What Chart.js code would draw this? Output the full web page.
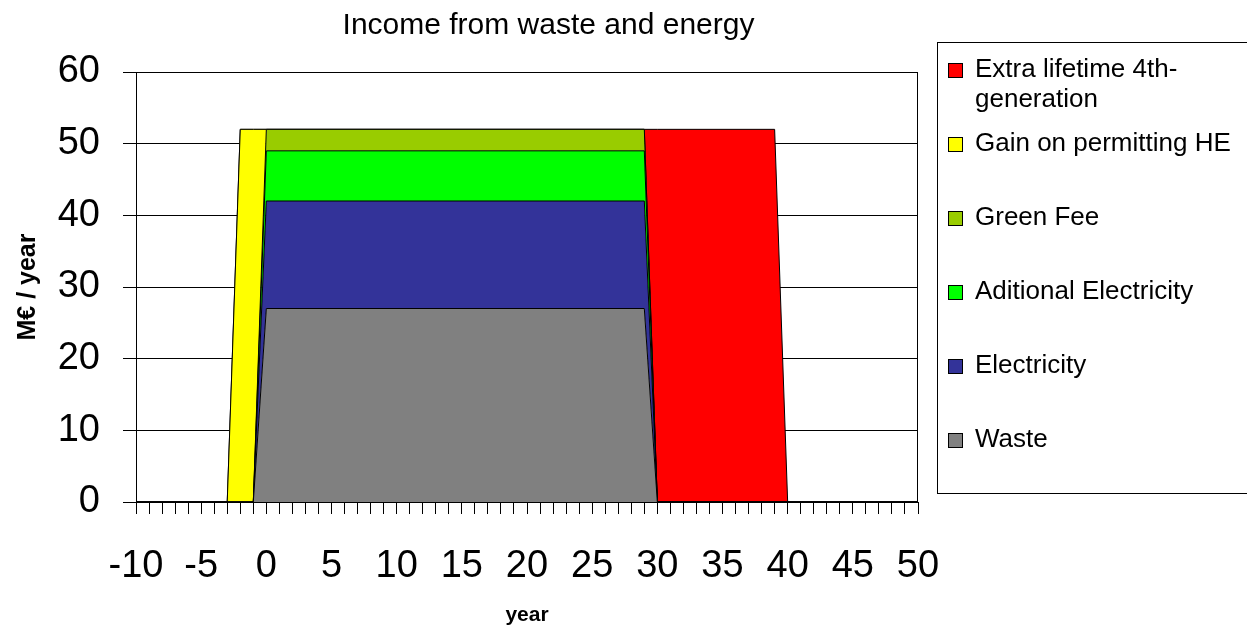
<!DOCTYPE html>
<html>
<head>
<meta charset="utf-8">
<title>Income from waste and energy</title>
<script src="https://cdn.jsdelivr.net/npm/chart.js@4/dist/chart.umd.min.js"></script>
<style>
  html, body { margin: 0; padding: 0; background: #fff; }
  canvas { display: block; }
</style>
</head>
<body>
<canvas id="chart" width="1247" height="628"></canvas>
<script>
// Years at which the income streams change (x positions of the area breakpoints)
const years = [-10, -3, -2, -1, 0, 29, 30, 39, 40, 50];

// Income per stream, M€ / year, stacked bottom to top
const waste            = [0, 0, 0,  0, 27, 27,  0,  0, 0, 0];
const electricity      = [0, 0, 0,  0, 15, 15,  0,  0, 0, 0];
const addElectricity   = [0, 0, 0,  0,  7,  7,  0,  0, 0, 0];
const greenFee         = [0, 0, 0,  0,  3,  3,  0,  0, 0, 0];
const gainPermitting   = [0, 0, 52, 52, 0,  0,  0,  0, 0, 0];
const extraLifetime    = [0, 0, 0,  0,  0,  0, 52, 52, 0, 0];

const seriesNames = [
  'Waste',
  'Electricity',
  'Aditional Electricity',
  'Green Fee',
  'Gain on permitting HE',
  'Extra lifetime 4th-generation'
];
const seriesValues = [waste, electricity, addElectricity, greenFee, gainPermitting, extraLifetime];
const seriesColors = ['#808080', '#333399', '#00FF00', '#99CC00', '#FFFF00', '#FF0000'];

const yTicks = { min: 0, max: 60, step: 10 };
const xTicks = { min: -10, max: 50, step: 1, labelEvery: 5 };

const FONT = "'Liberation Sans', Arial, Helvetica, sans-serif";
Chart.defaults.font.family = FONT;
Chart.defaults.color = '#000';

const datasets = seriesValues.map((vals, i) => ({
  label: seriesNames[i],
  data: years.map((x, j) => ({ x: x, y: vals[j] })),
  backgroundColor: seriesColors[i],
  borderColor: '#000',
  borderWidth: 1,
  pointRadius: 0,
  tension: 0,
  fill: i === 0 ? 'origin' : '-1'
}));

// Split a legend label into lines that fit the given width (breaks after spaces or hyphens)
function wrapText(ctx, text, maxWidth) {
  const tokens = text.match(/[^\s-]+-?\s*|\s+/g) || [text];
  const lines = [];
  let line = '';
  tokens.forEach(tok => {
    const test = line + tok;
    if (line && ctx.measureText(test.trimEnd()).width > maxWidth) {
      lines.push(line.trimEnd());
      line = tok.trimStart();
    } else {
      line = test;
    }
  });
  if (line) lines.push(line.trimEnd());
  return lines;
}

// Plot frame drawn over the areas
const frame = {
  id: 'frame',
  afterDatasetsDraw(chart) {
    const { ctx, chartArea: a } = chart;
    ctx.save();
    ctx.strokeStyle = '#000';
    ctx.lineWidth = 1;
    ctx.strokeRect(Math.round(a.left) + 0.5, Math.round(a.top) + 0.5,
                   Math.round(a.right - a.left) - 1, Math.round(a.bottom - a.top));
    ctx.restore();
  }
};

// Boxed legend at the right, newest series first
const sideLegend = {
  id: 'sideLegend',
  afterDraw(chart) {
    const { ctx, chartArea: a } = chart;
    const boxL = Math.round(a.right) + 19;
    const boxT = 42, boxB = 493;
    ctx.save();
    ctx.strokeStyle = '#000';
    ctx.lineWidth = 1;
    ctx.strokeRect(boxL + 0.5, boxT + 0.5, chart.width - boxL + 20, boxB - boxT);
    ctx.font = '26px ' + FONT;
    ctx.textBaseline = 'middle';
    ctx.textAlign = 'left';
    const items = chart.data.datasets.slice().reverse();
    items.forEach((ds, i) => {
      const cy = boxT + 28 + i * 74;
      ctx.fillStyle = ds.backgroundColor;
      ctx.fillRect(boxL + 11, cy - 7, 15, 15);
      ctx.strokeRect(boxL + 11.5, cy - 6.5, 14, 14);
      ctx.fillStyle = '#000';
      wrapText(ctx, ds.label, chart.width - boxL - 42).forEach((ln, j) => {
        ctx.fillText(ln, boxL + 38, cy + j * 30);
      });
    });
    ctx.restore();
  }
};

new Chart(document.getElementById('chart'), {
  type: 'line',
  data: { datasets: datasets },
  plugins: [frame, sideLegend],
  options: {
    responsive: false,
    animation: false,
    events: [],
    layout: { padding: { left: 0, right: 150, top: 0, bottom: 0 } },
    plugins: {
      legend: { display: false },
      tooltip: { enabled: false },
      title: {
        display: true,
        text: 'Income from waste and energy',
        color: '#000',
        font: { size: 30, weight: 'normal' },
        padding: { top: 8, bottom: 28 }
      }
    },
    scales: {
      x: {
        type: 'linear',
        min: xTicks.min,
        max: xTicks.max,
        afterFit(s) { s.height = 126; },
        border: { display: true, color: '#000', width: 1 },
        grid: { drawOnChartArea: false, drawTicks: true, tickLength: 12, color: '#000' },
        ticks: {
          stepSize: xTicks.step,
          autoSkip: false,
          maxRotation: 0,
          minRotation: 0,
          padding: 30,
          color: '#000',
          font: { size: 38 },
          callback: v => (v % xTicks.labelEvery === 0 ? String(v) : '')
        },
        title: {
          display: true,
          text: 'year',
          color: '#000',
          font: { size: 21, weight: 'bold' },
          padding: { top: 0, bottom: 0 }
        }
      },
      y: {
        stacked: true,
        min: yTicks.min,
        max: yTicks.max,
        afterFit(s) { s.width = 136; },
        border: { display: true, color: '#000', width: 1 },
        grid: { color: '#000', lineWidth: 1, drawTicks: true, tickLength: 13 },
        ticks: {
          stepSize: yTicks.step,
          padding: 23,
          color: '#000',
          font: { size: 38 }
        },
        title: {
          display: true,
          text: 'M€ / year',
          color: '#000',
          font: { size: 25, weight: 'bold' },
          padding: { top: 13, bottom: 0 }
        }
      },
      legendSpace: {
        position: 'right',
        display: true,
        afterFit(s) { s.width = 179; },
        border: { display: false },
        grid: { display: false, drawTicks: false },
        ticks: { display: false }
      }
    }
  }
});
</script>
</body>
</html>
